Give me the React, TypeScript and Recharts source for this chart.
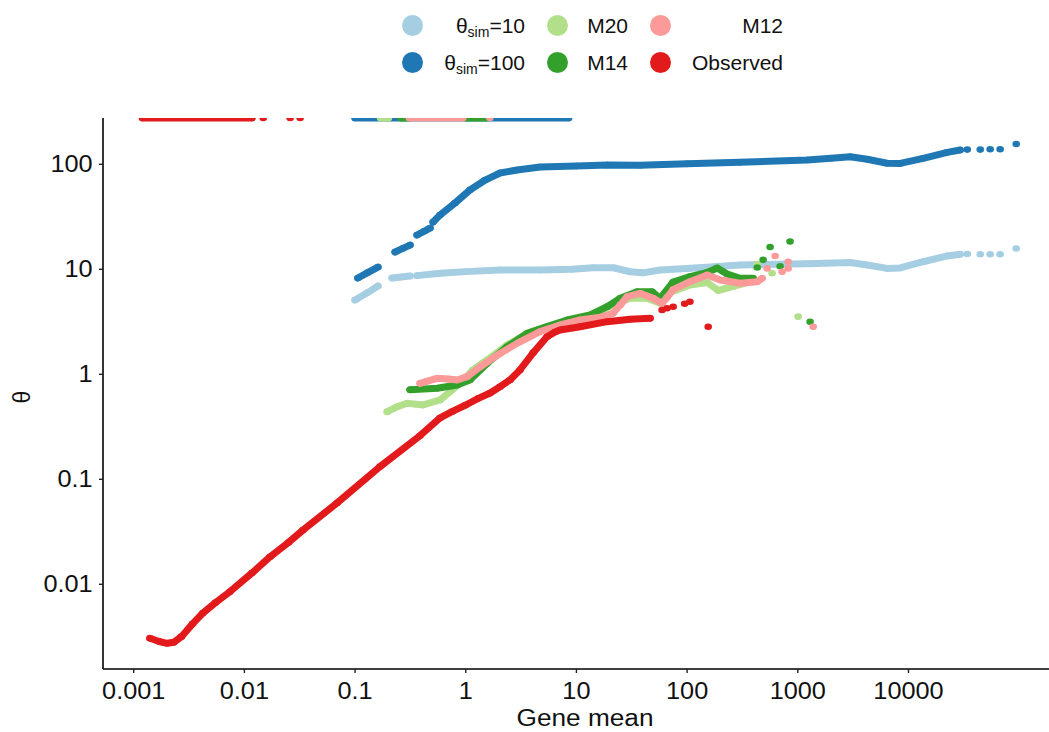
import React from 'react';
import { ScatterChart, Scatter, XAxis, YAxis } from 'recharts';

type P = [number, number];

// colours
const C_SIM10 = '#A6CEE3';
const C_SIM100 = '#1F78B4';
const C_M20 = '#B2DF8A';
const C_M14 = '#33A02C';
const C_M12 = '#FB9A99';
const C_OBS = '#E31A1C';

// axes
const xTicks = [0.001, 0.01, 0.1, 1, 10, 100, 1000, 10000];
const xTickLabels = ['0.001', '0.01', '0.1', '1', '10', '100', '1000', '10000'];
const yTicks = [0.01, 0.1, 1, 10, 100];
const yTickLabels = ['0.01', '0.1', '1', '10', '100'];
const X_DOMAIN: [number, number] = [0.000528, 186000];
const Y_DOMAIN: [number, number] = [0.00156, 276];
const TOP = 276; // theta values squished onto the upper limit

// θsim = 10
const sim10A: P[] = [[0.1, 5.1], [0.13, 6.0], [0.161, 6.93]];
const sim10B: P[] = [[0.216, 8.26], [0.26, 8.45], [0.314, 8.63]];
const sim10C: P[] = [[0.363, 8.7], [0.586, 9.17], [1.0, 9.5], [2.04, 9.84], [4.7, 9.84], [9.0, 10.0], [14.2, 10.35], [21.5, 10.35], [30.6, 9.48], [40, 9.25], [57, 9.84], [100, 10.2], [301, 11.0], [1216, 11.3], [2973, 11.6], [4236, 11.0], [6412, 10.2], [8414, 10.3], [13580, 11.8], [22390, 13.4], [29300, 13.9]];
const sim10Dots: P[] = [[34000, 14.0], [44500, 13.9], [54700, 13.9], [67300, 13.9], [94000, 15.8]];

// θsim = 100
const sim100A: P[] = [[0.106, 8.26], [0.13, 9.3], [0.161, 10.5]];
const sim100B: P[] = [[0.23, 14.6], [0.27, 15.8], [0.314, 17.0]];
const sim100C: P[] = [[0.363, 21.2], [0.42, 23.0], [0.476, 24.7]];
const sim100D: P[] = [[0.507, 28.2], [0.586, 32.9], [0.8, 42.8], [1.09, 56.9], [1.5, 70.8], [2.04, 82.6], [2.91, 88.2], [4.7, 94.3], [10, 96.3], [19, 98.5], [37.6, 98.0], [100, 101], [301, 104.5], [1216, 110], [2000, 114], [2973, 118], [4236, 111.6], [6412, 102.2], [8414, 102], [13580, 114], [22390, 130], [29300, 136.8]];
const sim100Dots: P[] = [[34000, 138], [44500, 138], [54700, 139], [67300, 139], [94000, 156]];
const sim100Top: P[] = [[0.1, TOP], [8.5, TOP]];

// M20
const m20Line: P[] = [[0.195, 0.44], [0.24, 0.49], [0.295, 0.53], [0.35, 0.52], [0.411, 0.511], [0.586, 0.569], [0.889, 0.82], [1.16, 1.1], [1.56, 1.37], [2.36, 1.9], [3.58, 2.45], [5.42, 2.84], [9.33, 3.29], [14.2, 3.67], [21.4, 4.57], [30.5, 5.29], [43.5, 5.29], [57, 4.74], [66.2, 5.9], [106, 7.08], [152, 7.48], [191, 6.28], [261, 6.86], [349, 7.48]];
const m20Dots: P[] = [[430, 11.2], [586, 9.17], [1007, 3.54]];
const m20Top: P[] = [[0.17, TOP], [0.2, TOP]];

// M14
const m14Line: P[] = [[0.314, 0.711], [0.551, 0.737], [0.836, 0.791], [1.09, 0.883], [1.56, 1.27], [2.36, 1.83], [3.58, 2.45], [5.42, 2.84], [8.24, 3.29], [13.3, 3.67], [18.9, 4.4], [24.8, 5.29], [35.3, 6.12], [48.3, 6.12], [57, 5.29], [74.8, 7.57], [106, 8.51], [152, 9.33], [187, 10.3], [230, 9.02], [301, 8.2], [395, 8.2]];
const m14Dots: P[] = [[430, 10.4], [486, 12.3], [562, 16.3], [692, 10.7], [851, 18.4], [1291, 3.17]];
const m14TopA: P[] = [[0.26, TOP], [0.31, TOP]];
const m14TopB: P[] = [[1.0, TOP], [1.56, TOP]];

// M12
const m12Line: P[] = [[0.386, 0.82], [0.45, 0.86], [0.551, 0.916], [0.7, 0.9], [0.836, 0.883], [1.03, 0.949], [1.35, 1.18], [2.04, 1.58], [3.09, 2.04], [4.69, 2.55], [7.11, 2.95], [10.8, 3.29], [16.4, 3.49], [21.4, 3.81], [25, 4.6], [28.7, 5.48], [37.6, 5.9], [49.3, 5.29], [59.4, 4.74], [66, 5.4], [74.8, 6.4], [106, 7.62], [152, 8.83], [199, 7.91], [301, 7.36], [430, 7.62], [476, 8.2]];
const m12Dots: P[] = [[528, 10.2], [624, 13.4], [721, 9.48], [818, 11.8], [818, 10.2], [1377, 2.84]];
const m12Top: P[] = [[0.31, TOP], [0.94, TOP]];
const m12TopDots: P[] = [[1.65, TOP]];

// Observed
const obsLine: P[] = [[0.0014, 0.00306], [0.0017, 0.00285], [0.002, 0.00274], [0.0023, 0.0028], [0.0027, 0.00317], [0.0034, 0.0042], [0.0042, 0.0053], [0.0055, 0.0067], [0.0074, 0.0085], [0.0117, 0.0128], [0.0171, 0.0183], [0.025, 0.025], [0.0339, 0.0329], [0.0687, 0.0594], [0.168, 0.132], [0.386, 0.26], [0.586, 0.384], [0.75, 0.44], [1.0, 0.51], [1.3, 0.59], [1.66, 0.664], [2.04, 0.762], [2.51, 0.883], [3.09, 1.1], [4.06, 1.6], [5.42, 2.28], [6.41, 2.53], [7.11, 2.64], [10.8, 2.84], [18.9, 3.17], [30.5, 3.34], [46.3, 3.41]];
const obsDots: P[] = [[59.4, 4.09], [66, 4.25], [74.8, 4.4], [95, 4.7], [106, 4.91], [155, 2.84]];
const obsTop: P[] = [[0.0012, TOP], [0.0117, TOP]];
const obsTopDots: P[] = [[0.0148, TOP], [0.0259, TOP], [0.0319, TOP]];

const FONT = '"Liberation Sans", Arial, Helvetica, sans-serif';
const AXIS_FONT = 23;
const STRETCH = 1.1;

const pts = (a: P[]) => a.map(([x, y]) => ({ x, y }));

const dotShape = (color: string) => (props: any) => {
  if (props.cx == null || props.cy == null) return <g />;
  return <ellipse cx={props.cx} cy={props.cy} rx={3.8} ry={3.3} fill={color} />;
};

const lineSeries = (key: string, data: P[], color: string) => (
  <Scatter
    key={key}
    data={pts(data)}
    fill={color}
    line={{ stroke: color, strokeWidth: 7, strokeLinecap: 'round', strokeLinejoin: 'round' } as any}
    lineJointType="linear"
    shape={dotShape(color)}
    isAnimationActive={false}
  />
);

const dotSeries = (key: string, data: P[], color: string) => (
  <Scatter key={key} data={pts(data)} fill={color} shape={dotShape(color)} isAnimationActive={false} />
);

const XTick = (props: any) => {
  const { x, y, payload } = props;
  const i = xTicks.indexOf(payload.value);
  const label = i >= 0 ? xTickLabels[i] : String(payload.value);
  return (
    <g transform={`translate(${x},${y})`}>
      <text transform={`scale(${STRETCH},1)`} x={0} y={24} textAnchor="middle" fontSize={AXIS_FONT} fontFamily={FONT} fill="#111">
        {label}
      </text>
    </g>
  );
};

const YTick = (props: any) => {
  const { x, y, payload } = props;
  const i = yTicks.indexOf(payload.value);
  const label = i >= 0 ? yTickLabels[i] : String(payload.value);
  return (
    <g transform={`translate(${x},${y})`}>
      <text transform={`scale(${STRETCH},1)`} x={-4} y={8} textAnchor="end" fontSize={AXIS_FONT} fontFamily={FONT} fill="#111">
        {label}
      </text>
    </g>
  );
};

const subStyle: React.CSSProperties = { fontSize: 14, verticalAlign: '-0.25em', lineHeight: 0 };

const legendItems = [
  { color: C_SIM10, cx: 412, cy: 25.5, right: 525, row: 0, label: <span>θ<sub style={subStyle}>sim</sub>=10</span> },
  { color: C_SIM100, cx: 412, cy: 62, right: 525, row: 1, label: <span>θ<sub style={subStyle}>sim</sub>=100</span> },
  { color: C_M20, cx: 557, cy: 25.5, right: 628, row: 0, label: <span>M20</span> },
  { color: C_M14, cx: 557, cy: 62, right: 628, row: 1, label: <span>M14</span> },
  { color: C_M12, cx: 660.5, cy: 25.5, right: 783, row: 0, label: <span>M12</span> },
  { color: C_OBS, cx: 660.5, cy: 62, right: 783, row: 1, label: <span>Observed</span> },
];

const Legend = () => (
  <>
    {legendItems.map((it, k) => (
      <React.Fragment key={k}>
        <div style={{ position: 'absolute', left: it.cx - 10.5, top: it.cy - 10.5, width: 21, height: 21, borderRadius: '50%', background: it.color }} />
        <div
          style={{
            position: 'absolute',
            right: 1049 - it.right,
            top: it.row === 0 ? 13 : 50,
            fontSize: 21,
            lineHeight: '25px',
            fontFamily: FONT,
            color: '#111',
            whiteSpace: 'nowrap',
            textAlign: 'right',
          }}
        >
          {it.label}
        </div>
      </React.Fragment>
    ))}
  </>
);

export default function App() {
  return (
    <div style={{ position: 'absolute', left: 0, top: 0, width: 1049, height: 732, background: '#fff', overflow: 'hidden' }}>
      <ScatterChart width={1049} height={732} margin={{ top: 118, right: 0, bottom: 0, left: 0 }}>
        <XAxis
          type="number"
          dataKey="x"
          scale="log"
          domain={X_DOMAIN}
          allowDataOverflow
          ticks={xTicks}
          interval={0}
          height={63}
          tickSize={4}
          axisLine={{ stroke: '#000', strokeWidth: 1.6 }}
          tickLine={{ stroke: '#222', strokeWidth: 1.4 }}
          tick={(p: any) => <XTick {...p} />}
        />
        <YAxis
          type="number"
          dataKey="y"
          scale="log"
          domain={Y_DOMAIN}
          allowDataOverflow
          ticks={yTicks}
          interval={0}
          width={103}
          tickSize={4}
          axisLine={{ stroke: '#000', strokeWidth: 1.6 }}
          tickLine={{ stroke: '#222', strokeWidth: 1.4 }}
          tick={(p: any) => <YTick {...p} />}
        />
        {lineSeries('s10a', sim10A, C_SIM10)}
        {lineSeries('s10b', sim10B, C_SIM10)}
        {lineSeries('s10c', sim10C, C_SIM10)}
        {dotSeries('s10d', sim10Dots, C_SIM10)}
        {lineSeries('s100a', sim100A, C_SIM100)}
        {lineSeries('s100b', sim100B, C_SIM100)}
        {lineSeries('s100c', sim100C, C_SIM100)}
        {lineSeries('s100d', sim100D, C_SIM100)}
        {dotSeries('s100e', sim100Dots, C_SIM100)}
        {lineSeries('s100t', sim100Top, C_SIM100)}
        {lineSeries('m20l', m20Line, C_M20)}
        {dotSeries('m20d', m20Dots, C_M20)}
        {lineSeries('m20t', m20Top, C_M20)}
        {lineSeries('m14l', m14Line, C_M14)}
        {dotSeries('m14d', m14Dots, C_M14)}
        {lineSeries('m14ta', m14TopA, C_M14)}
        {lineSeries('m14tb', m14TopB, C_M14)}
        {lineSeries('m12l', m12Line, C_M12)}
        {dotSeries('m12d', m12Dots, C_M12)}
        {lineSeries('m12t', m12Top, C_M12)}
        {dotSeries('m12td', m12TopDots, C_M12)}
        {lineSeries('obsl', obsLine, C_OBS)}
        {dotSeries('obsd', obsDots, C_OBS)}
        {lineSeries('obst', obsTop, C_OBS)}
        {dotSeries('obstd', obsTopDots, C_OBS)}
      </ScatterChart>
      <Legend />
      <div style={{ position: 'absolute', left: 585, top: 705, transform: `translateX(-50%) scaleX(1.14)`, fontSize: AXIS_FONT, lineHeight: '26px', fontFamily: FONT, color: '#111', whiteSpace: 'nowrap' }}>
        Gene mean
      </div>
      <div style={{ position: 'absolute', left: 22, top: 397, transform: `translate(-50%,-50%) rotate(-90deg)`, fontSize: AXIS_FONT, lineHeight: '26px', fontFamily: FONT, color: '#111' }}>
        θ
      </div>
    </div>
  );
}
